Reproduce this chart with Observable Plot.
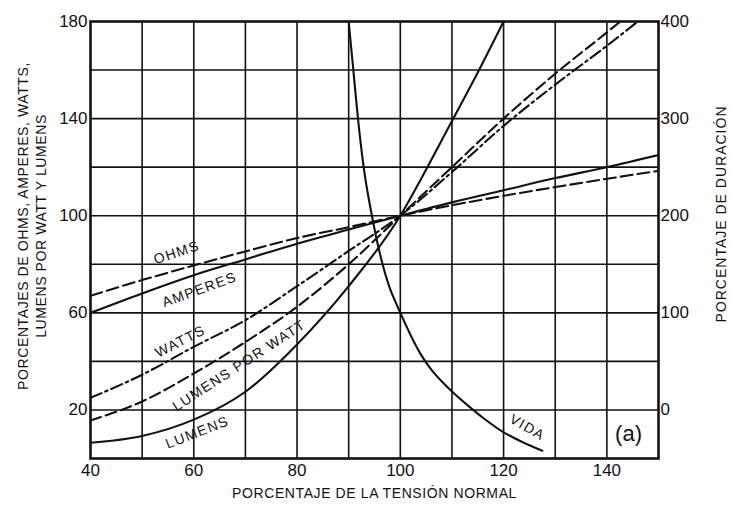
<!DOCTYPE html>
<html><head><meta charset="utf-8">
<script src="https://cdn.jsdelivr.net/npm/d3@7"></script>
<script src="https://cdn.jsdelivr.net/npm/@observablehq/plot@0.6"></script>
<style>
html,body{margin:0;padding:0;background:#fff;}
</style>
</head><body><div id="chart"></div>
<script>
// ---- tick labels ----
const xTicks = [40, 60, 80, 100, 120, 140];
const leftTicks = [20, 60, 100, 140, 180];
const rightTicks = [0, 100, 200, 300, 400];
const gridXTicks = [50, 60, 70, 80, 90, 100, 110, 120, 130, 140];
const gridYTicks = [20, 40, 60, 80, 100, 120, 140, 160];

// ---- series (x = % tension normal) ----
const ohmsX = [40, 50, 60, 70, 80, 90, 100, 110, 120, 130, 140, 150];
const ohmsY = [67, 73.5, 79.5, 85.3, 90.8, 95.3, 100, 104.3, 108.2, 111.8, 115.2, 118.5];

const ampsX = [40, 50, 60, 70, 80, 90, 100, 110, 120, 130, 140, 150];
const ampsY = [60, 68, 75.5, 82, 88.5, 94.3, 100, 105.5, 110.5, 115.5, 120, 125];

const wattsX = [40, 50, 60, 70, 80, 90, 100, 110, 120, 130, 140, 146];
const wattsY = [25, 34.5, 46, 57, 71, 85.5, 100, 118, 137, 154, 170, 180];

const lpwX = [40, 50, 60, 70, 80, 90, 100, 110, 120, 130, 140, 142.6];
const lpwY = [15.7, 23.5, 35, 48, 62.5, 80, 100, 120, 140, 158.5, 175.5, 180];

const lumensX = [40, 50, 60, 70, 80, 90, 100, 105, 110, 115, 120];
const lumensY = [6.5, 9.3, 16, 27.5, 47, 71, 100, 119, 139, 159, 180];

// vida: read on the right axis (porcentaje de duración)
const vidaX = [90, 90.9, 91.8, 92.9, 94.5, 96, 98, 99, 100, 102, 104, 106, 108, 110, 113, 116, 120, 124, 127.5];
const vidaY = [400, 350, 300, 250, 200, 162, 125, 112, 100, 77, 57, 41.5, 29.5, 19, 5, -8, -23, -34, -42];

// right-axis value -> left-axis scale
const toLeft = v => v / 2.5 + 20;
const pts = (xs, ys) => xs.map((x, i) => ({x, y: ys[i]}));

const annotations = [
  {text: "OHMS", x: 56.7, y: 84.8, r: -18},
  {text: "AMPERES", x: 61.1, y: 69.5, r: -20},
  {text: "WATTS", x: 57.4, y: 48.2, r: -27},
  {text: "LUMENS POR WATT", x: 68.8, y: 38.3, r: -33},
  {text: "LUMENS", x: 60.7, y: 10.7, r: -21},
  {text: "VIDA", x: 124.6, y: 12.8, r: 30}
];

const ink = "#111";
const lineOpts = {x: "x", y: "y", stroke: ink, strokeWidth: 2.1, curve: "monotone-x", clip: true};

const chart = Plot.plot({
  width: 732, height: 514,
  marginLeft: 90, marginRight: 74, marginTop: 21, marginBottom: 56,
  x: {domain: [40, 150]},
  y: {domain: [0, 180]},
  style: {fontFamily: "'Liberation Sans', Arial, sans-serif", background: "white", color: ink},
  marks: [
    Plot.gridX({ticks: gridXTicks, stroke: ink, strokeOpacity: 1, strokeWidth: 1.6}),
    Plot.gridY({ticks: gridYTicks, stroke: ink, strokeOpacity: 1, strokeWidth: 1.6}),
    Plot.frame({stroke: ink, strokeWidth: 2.6}),
    Plot.axisX({ticks: xTicks, tickSize: 0, tickPadding: 5, fontSize: 17, label: null}),
    Plot.axisY({ticks: leftTicks, tickSize: 0, tickPadding: 3, fontSize: 17, label: null}),
    Plot.axisY({anchor: "right", ticks: rightTicks.map(toLeft), tickSize: 0, tickPadding: 2, fontSize: 17, label: null,
      tickFormat: (d, i) => String(rightTicks[i])}),
    Plot.line(pts(ohmsX, ohmsY), {...lineOpts, strokeDasharray: "12,5"}),
    Plot.line(pts(ampsX, ampsY), lineOpts),
    Plot.line(pts(wattsX, wattsY), {...lineOpts, strokeDasharray: "12,4,2.5,4"}),
    Plot.line(pts(lpwX, lpwY), {...lineOpts, strokeDasharray: "11,5"}),
    Plot.line(pts(lumensX, lumensY), lineOpts),
    Plot.line(pts(vidaX, vidaY), {x: "x", y: d => toLeft(d.y), stroke: ink, strokeWidth: 2.1, curve: "monotone-x", clip: true}),
    Plot.text(annotations, {x: "x", y: "y", text: "text", rotate: "r", fontSize: 14, fill: ink}),
    Plot.text(["(a)"], {x: 144.2, y: 10.3, fontSize: 22, fill: ink}),
    Plot.text(["PORCENTAJE DE LA TENSIÓN NORMAL"], {frameAnchor: "bottom", dy: 39, fontSize: 14, fill: ink, textAnchor: "middle"}),
    Plot.text(["PORCENTAJES DE OHMS, AMPERES, WATTS,\nLUMENS POR WATT Y LUMENS"], {frameAnchor: "left", dx: -59, dy: -14, rotate: -90, fontSize: 14, lineHeight: 1.3, fill: ink, textAnchor: "middle", lineAnchor: "middle"}),
    Plot.text(["PORCENTAJE DE DURACIÓN"], {frameAnchor: "right", dx: 63, dy: -26, rotate: -90, fontSize: 14, fill: ink, textAnchor: "middle", lineAnchor: "middle"})
  ]
});

// letter spacing for the wide lettering of the original
chart.querySelectorAll("text").forEach(t => {
  const s = t.textContent;
  if (s.startsWith("PORCENTAJE DE DURACI")) t.setAttribute("letter-spacing", "1");
  else if (s.startsWith("PORCENTAJE")) t.setAttribute("letter-spacing", "0.6");
  else if (annotations.some(a => a.text === s)) t.setAttribute("letter-spacing", "1.4");
});
document.getElementById("chart").appendChild(chart);
</script>
</body></html>
